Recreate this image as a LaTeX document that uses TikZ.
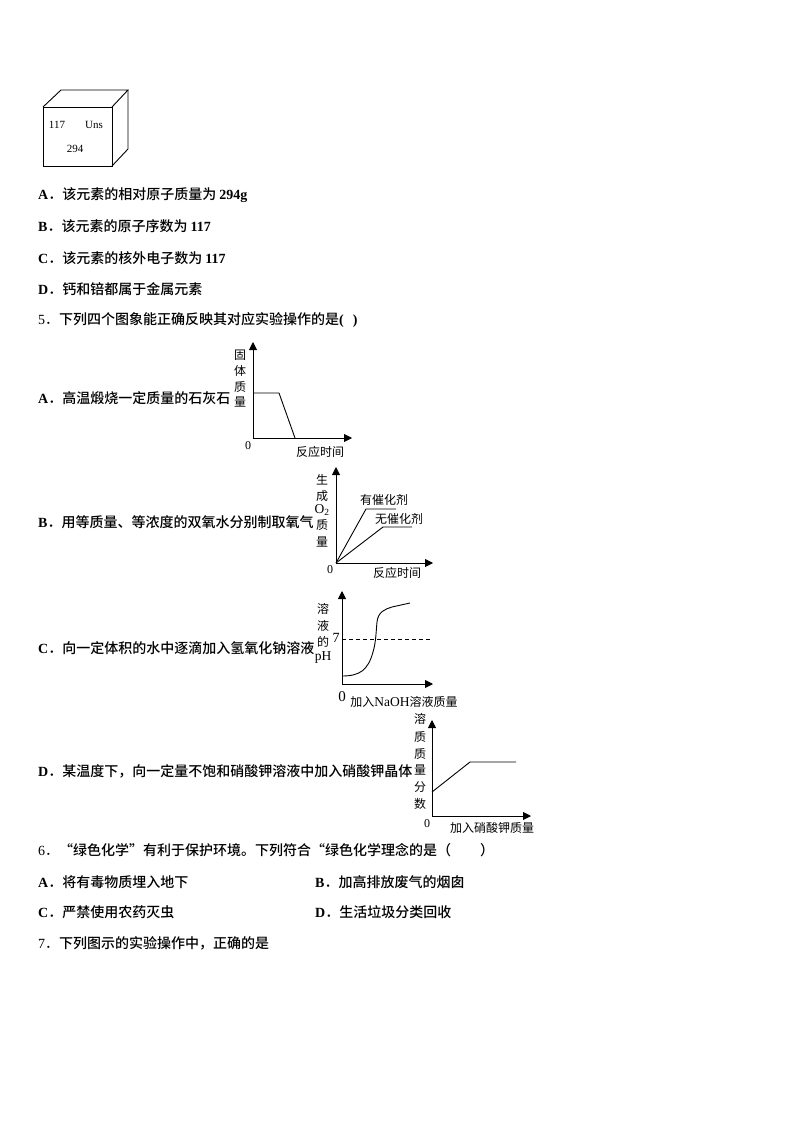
\documentclass[tikz,border=0pt]{standalone}
\usepackage{fontspec}
\setmainfont{Liberation Serif}
\newfontfamily\cjk[BoldFont={Noto Sans CJK SC Medium}]{Noto Sans CJK SC}
\usetikzlibrary{arrows.meta}
\newcommand{\lat}[1]{{\rmfamily #1}}
\newcommand{\latbig}[1]{{\fontsize{13.5}{14}\selectfont\rmfamily #1}}
\tikzset{
	axis/.style={line width=0.9pt, -{Triangle[length=8pt,width=8pt]}},
	curve/.style={line width=0.9pt},
	linetxt/.style={anchor=west, inner sep=0pt, font=\fontsize{14}{16}\selectfont\cjk},
	boldtxt/.style={linetxt, font=\fontsize{14}{16}\selectfont\cjk\bfseries},
	lab/.style={inner sep=0pt, font=\fontsize{12}{14}\selectfont\cjk},
	num/.style={inner sep=0pt, font=\fontsize{12}{13}\selectfont\rmfamily},
	cell/.style={inner sep=0pt, font=\fontsize{11}{12}\selectfont\rmfamily}
}
\begin{document}
\begin{tikzpicture}[x=1pt, y=-1pt]
	\useasboundingbox[fill=white] (0, 0) rectangle (794, 1123);

	% cube
	\coordinate (F1) at (43, 107);
	\coordinate (F2) at (112, 107);
	\coordinate (F3) at (112, 166);
	\coordinate (F4) at (43, 166);
	\coordinate (B1) at (61, 90);
	\coordinate (B2) at (128, 90);
	\coordinate (B3) at (128, 149);
	\draw[curve] (F1) -- (F2) -- (F3) -- (F4) -- cycle;
	\draw[curve] (F1) -- (B1) -- (B2) -- (F2);
	\draw[curve] (B2) -- (B3) -- (F3);
	\node[cell] (cell117) at (57, 125) {117};
	\node[cell] (cellUns) at (94, 125) {Uns};
	\node[cell] (cell294) at (75, 149) {294};

	% text lines
	\node[boldtxt] (q4a) at (38, 195) {\lat{A}．该元素的相对原子质量为\hspace{3pt}\lat{294g}};
	\node[boldtxt] (q4b) at (38, 226) {\lat{B}．该元素的原子序数为\hspace{3pt}\lat{117}};
	\node[boldtxt] (q4c) at (38, 258) {\lat{C}．该元素的核外电子数为\hspace{3pt}\lat{117}};
	\node[boldtxt] (q4d) at (38, 289) {\lat{D}．钙和锫都属于金属元素};
	\node[boldtxt] (q5) at (38, 320) {\mdseries\lat{5}．\bfseries 下列四个图象能正确反映其对应实验操作的是\lat{(\hspace{9pt})}};
	\node[boldtxt] (q5a) at (38, 398) {\lat{A}．高温煅烧一定质量的石灰石};
	\node[boldtxt] (q5b) at (38, 522) {\lat{B}．用等质量、等浓度的双氧水分别制取氧气};
	\node[boldtxt] (q5c) at (38, 648) {\lat{C}．向一定体积的水中逐滴加入氢氧化钠溶液};
	\node[boldtxt] (q5d) at (38, 771) {\lat{D}．某温度下，向一定量不饱和硝酸钾溶液中加入硝酸钾晶体};
	\node[boldtxt] (q6) at (38, 850) {\mdseries\lat{6}．\bfseries “绿色化学”有利于保护环境。下列符合“绿色化学理念的是（\hspace{29pt}）};
	\node[boldtxt] (q6a) at (38, 882) {\lat{A}．将有毒物质埋入地下};
	\node[boldtxt] (q6b) at (315, 882) {\lat{B}．加高排放废气的烟囱};
	\node[boldtxt] (q6c) at (38, 912) {\lat{C}．严禁使用农药灭虫};
	\node[boldtxt] (q6d) at (315, 912) {\lat{D}．生活垃圾分类回收};
	\node[boldtxt] (q7) at (38, 943) {\mdseries\lat{7}．\bfseries 下列图示的实验操作中，正确的是};

	% chart A
	\coordinate (Oa) at (253, 438);
	\coordinate (Ya) at (253, 342);
	\coordinate (Xa) at (352, 438);
	\draw[axis] (Oa) -- (Ya);
	\draw[axis] (Oa) -- (Xa);
	\draw[curve] (253, 393) -- (279, 393) -- (295, 438);
	\foreach \t/\y [count=\i] in {固/355, 体/371, 质/387, 量/402}
		\node[lab] (ya\i) at (240, \y) {\t};
	\node[num] (zeroa) at (248, 446) {0};
	\node[lab] (xlaba) at (320, 452) {反应时间};

	% chart B
	\coordinate (Ob) at (336, 563);
	\coordinate (Yb) at (336, 467);
	\coordinate (Xb) at (433, 563);
	\draw[axis] (Ob) -- (Yb);
	\draw[axis] (Ob) -- (Xb);
	\draw[curve] (Ob) -- (366, 509) -- (396, 509);
	\draw[curve] (Ob) -- (383, 527) -- (412, 527);
	\foreach \t/\y [count=\i] in {生/480, 成/496, {\latbig{O\textsubscript{2}}}/510, 质/525, 量/542}
		\node[lab] (yb\i) at (322, \y) {\t};
	\node[lab] (cat) at (384, 500) {有催化剂};
	\node[lab] (nocat) at (399, 519) {无催化剂};
	\node[num] (zerob) at (330, 570) {0};
	\node[lab] (xlabb) at (397, 573) {反应时间};

	% chart C
	\coordinate (Oc) at (342, 684);
	\coordinate (Yc) at (342, 591);
	\coordinate (Xc) at (433, 684);
	\draw[axis] (Oc) -- (Yc);
	\draw[axis] (Oc) -- (Xc);
	\draw[curve, dash pattern=on 4pt off 3pt] (342, 639) -- (431, 639);
	\draw[curve] (342, 676) .. controls (360, 676) and (368, 670) .. (373, 652)
		.. controls (376, 642) and (376, 632) .. (377, 622)
		.. controls (378, 612) and (385, 609) .. (392, 607) -- (410, 603);
	\foreach \t/\y [count=\i] in {溶/609, 液/626, 的/642, {\latbig{pH}}/658}
		\node[lab] (yc\i) at (323, \y) {\t};
	\node[lab, font=\fontsize{14}{14}\selectfont\rmfamily] (seven) at (336, 638) {7};
	\node[lab, font=\fontsize{15}{14}\selectfont\rmfamily] (zeroc) at (342, 697) {0};
	\node[lab] (xlabc) at (404, 702) {加入\latbig{NaOH}溶液质量};

	% chart D
	\coordinate (Od) at (432, 816);
	\coordinate (Yd) at (432, 720);
	\coordinate (Xd) at (531, 816);
	\draw[axis] (Od) -- (Yd);
	\draw[axis] (Od) -- (Xd);
	\draw[curve] (432, 792) -- (470, 762) -- (516, 762);
	\foreach \t/\y [count=\i] in {溶/719, 质/737, 质/754, 量/770, 分/787, 数/804}
		\node[lab] (yd\i) at (420, \y) {\t};
	\node[num] (zerod) at (427, 824) {0};
	\node[lab] (xlabd) at (492, 828) {加入硝酸钾质量};
\end{tikzpicture}
\end{document}
